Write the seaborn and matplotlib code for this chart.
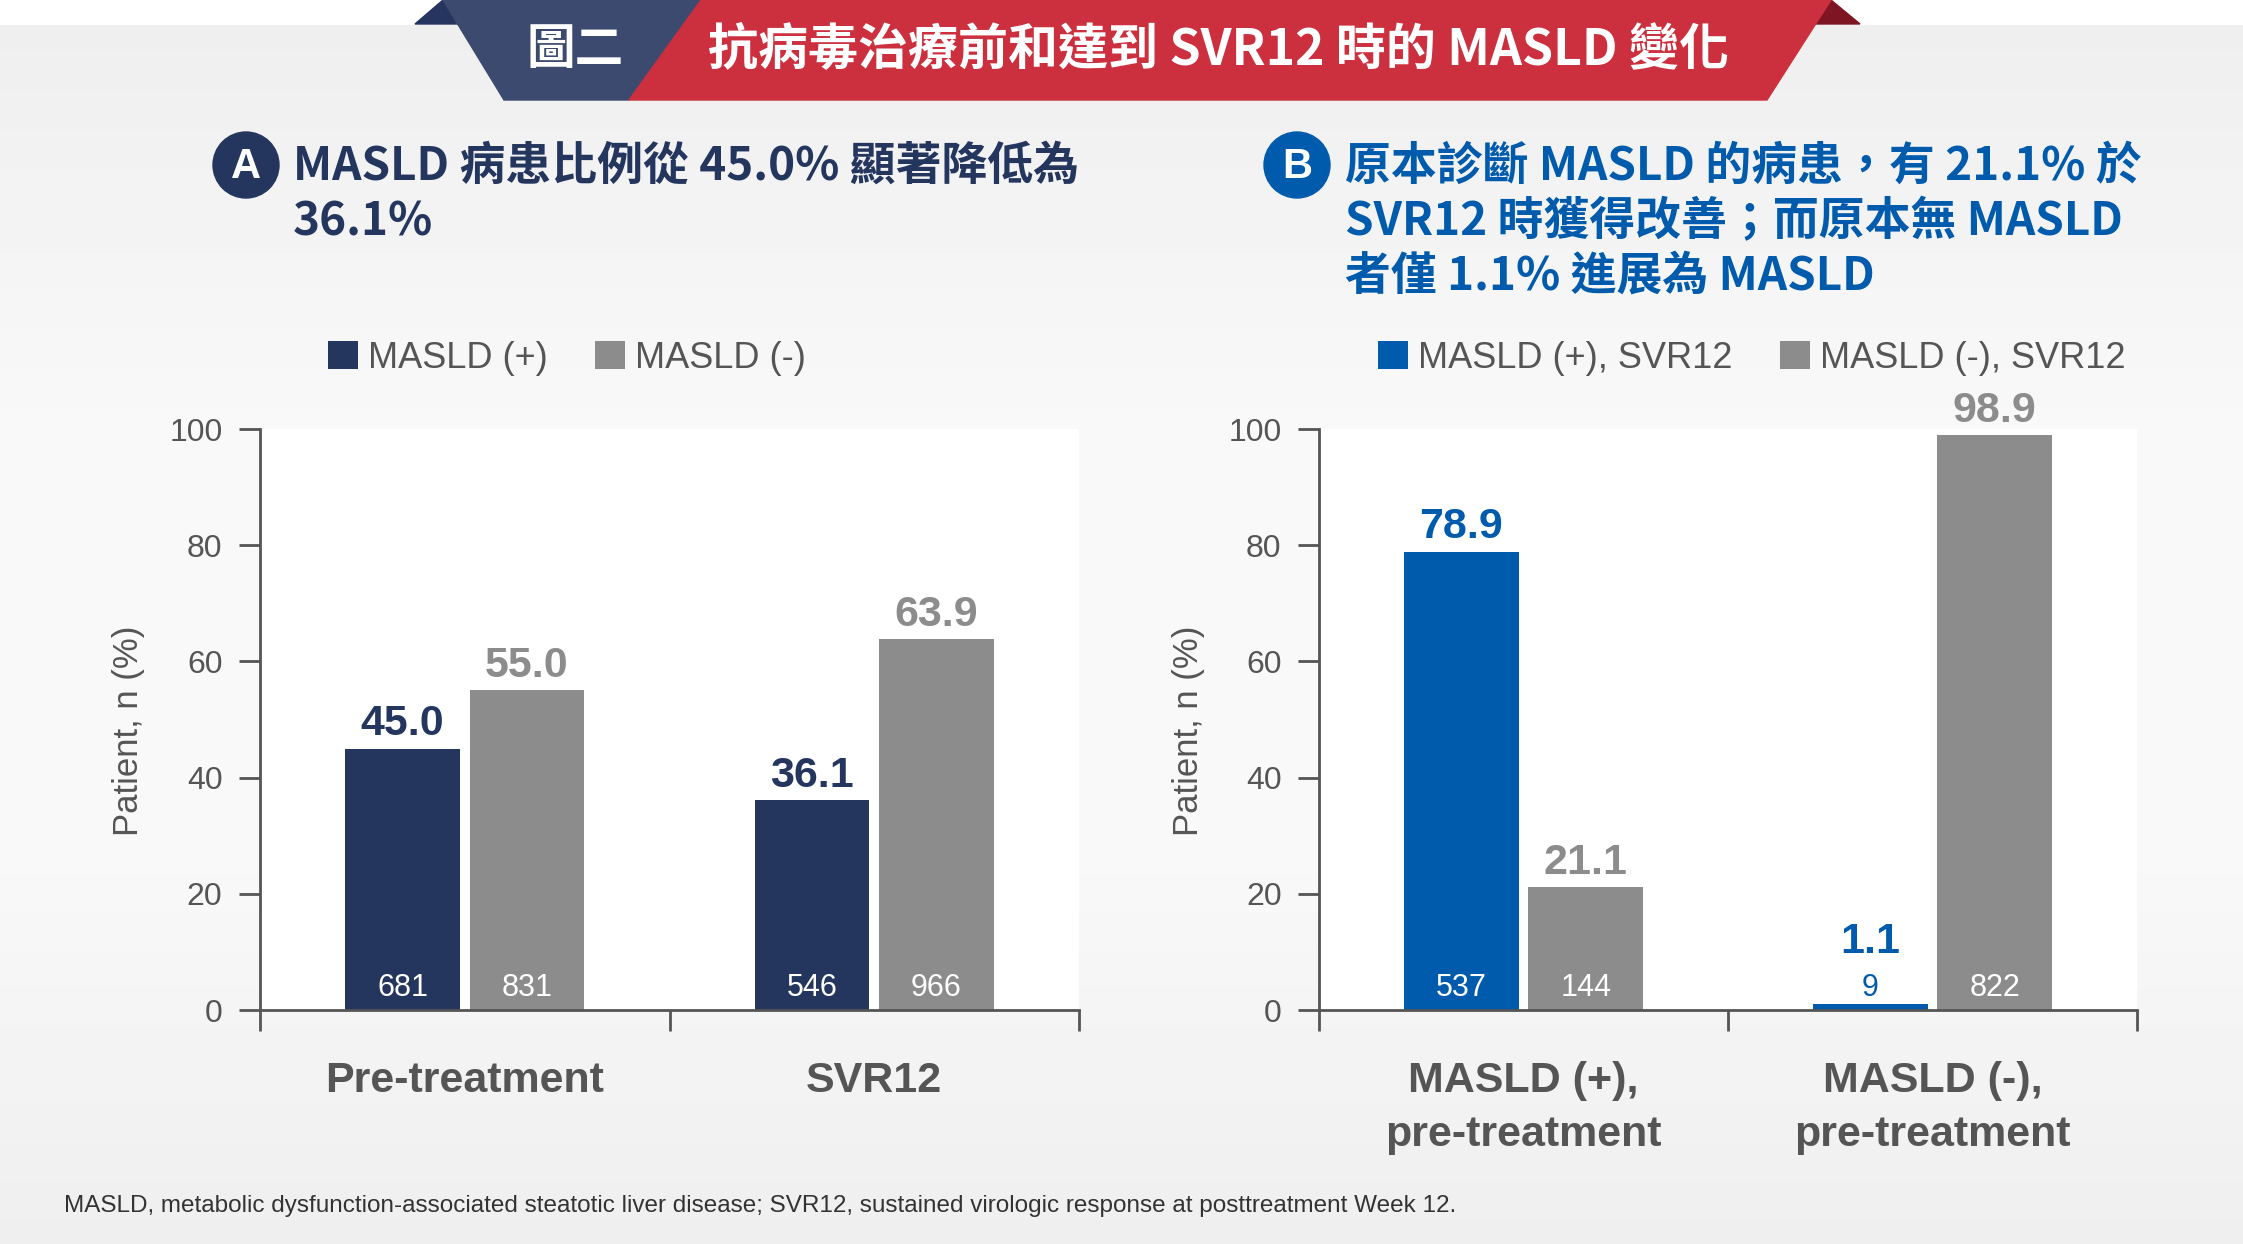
import matplotlib
matplotlib.use('Agg')
import matplotlib.pyplot as plt
import matplotlib.patches as mpatches
import numpy as np
import pandas as pd
import seaborn as sns

# ---- data ----
groups_a = ['Pre-treatment', 'SVR12']
pct_pos_a = [45.0, 36.1]
pct_neg_a = [55.0, 63.9]
n_pos_a = [681, 546]
n_neg_a = [831, 966]
legend_a = ['MASLD (+)', 'MASLD (-)']

groups_b = ['MASLD (+),\npre-treatment', 'MASLD (-),\npre-treatment']
pct_pos_b = [78.9, 1.1]
pct_neg_b = [21.1, 98.9]
n_pos_b = [537, 9]
n_neg_b = [144, 822]
legend_b = ['MASLD (+), SVR12', 'MASLD (-), SVR12']

yticks = [0, 20, 40, 60, 80, 100]

banner_tag = '圖二'
banner_title = '抗病毒治療前和達到 SVR12 時的 MASLD 變化'
title_a = ['MASLD 病患比例從 45.0% 顯著降低為', '36.1%']
title_b = ['原本診斷 MASLD 的病患，有 21.1% 於', 'SVR12 時獲得改善；而原本無 MASLD', '者僅 1.1% 進展為 MASLD']
footnote = ('MASLD, metabolic dysfunction-associated steatotic liver disease; '
            'SVR12, sustained virologic response at posttreatment Week 12.')

NAVY = '#25365e'
BLUE = '#005bac'
GREY = '#8c8c8c'
TXT = '#555555'

sns.set_theme(style='white')
plt.rcParams['font.family'] = ['Liberation Sans', 'Noto Sans CJK TC', 'DejaVu Sans']
CJK = ['Noto Sans CJK TC', 'DejaVu Sans']

W, H = 2243, 1244
fig = plt.figure(figsize=(W / 100, H / 100), dpi=100)

# background, banner, panel headings (pixel coordinates)
bg = fig.add_axes([0, 0, 1, 1], zorder=-1)
bg.set_xlim(0, W)
bg.set_ylim(H, 0)
bg.axis('off')
rows = np.arange(H)
shade = np.interp(rows, [0, 24, 25, 430, 850, H], [1, 1, 0.935, 0.975, 0.975, 0.935])
bg.imshow(shade[:, None], cmap='gray', vmin=0, vmax=1, extent=(0, W, H, 0), aspect='auto')

bg.add_patch(mpatches.Polygon([(415, 24), (443, 0), (458, 24)], color='#253560'))
bg.add_patch(mpatches.Polygon([(1815, 24), (1831, 0), (1860, 24)], color='#7d1522'))
bg.add_patch(mpatches.Polygon([(443, 0), (701, 0), (629, 100), (504, 100)], color='#3b4a6e'))
bg.add_patch(mpatches.Polygon([(701, 0), (1831, 0), (1767, 100), (629, 100)], color='#cc2f3d'))
bg.text(575, 50, banner_tag, ha='center', va='center', color='white', fontsize=35,
        fontweight='bold', family=CJK)
bg.text(1219, 50, banner_title, ha='center', va='center', color='white', fontsize=36,
        fontweight='bold', family=CJK)

for cx, letter, col, lines, tx in [(246, 'A', NAVY, title_a, 293), (1297, 'B', BLUE, title_b, 1345)]:
    bg.add_patch(mpatches.Circle((cx, 165), 33, color=col))
    bg.text(cx, 167, letter, ha='center', va='center', color='white', fontsize=30, fontweight='bold')
    for i, line in enumerate(lines):
        bg.text(tx, 167 + 55 * i, line, ha='left', va='center', color=col, fontsize=33,
                fontweight='bold', family=CJK)

bg.text(64, 1206, footnote, ha='left', va='center', color='#333333', fontsize=17.5)


def panel(rect, groups, pos, neg, n_pos, n_neg, labels, colors, legend_xy):
    ax = fig.add_axes(rect)
    df = pd.DataFrame({'group': groups * 2,
                       'status': [labels[0]] * len(groups) + [labels[1]] * len(groups),
                       'pct': pos + neg})
    sns.barplot(data=df, x='group', y='pct', hue='status', palette=colors, saturation=1,
                width=0.608, gap=0.08, errorbar=None, linewidth=0, ax=ax)
    ax.set_facecolor('white')
    ax.set_xlim(-0.5, 1.5)
    ax.set_ylim(0, 100)
    ax.set_yticks(yticks)
    ax.set_xticks([0, 1])
    ax.set_xticklabels(groups)
    ax.set_xticks([-0.5, 0.5, 1.5], minor=True)
    ax.set_xlabel('')
    ax.set_ylabel('Patient, n (%)', fontsize=25, color=TXT)
    ax.yaxis.label.set_va('center')
    ax.yaxis.set_label_coords(-0.16, 0.48)

    ax.tick_params(axis='y', left=True, length=15, width=2, color=TXT, labelsize=23,
                   labelcolor=TXT, pad=12)
    ax.tick_params(axis='x', which='major', bottom=True, length=0, pad=37, labelsize=31,
                   labelcolor=TXT)
    ax.tick_params(axis='x', which='minor', bottom=True, length=15, width=2, color=TXT)
    for lbl in ax.get_xticklabels():
        lbl.set_fontweight('bold')
        lbl.set_linespacing(1.45)

    for side in ['top', 'right']:
        ax.spines[side].set_visible(False)
    for side in ['left', 'bottom']:
        ax.spines[side].set_color(TXT)
        ax.spines[side].set_linewidth(2)

    for cont, ns, col in zip(ax.containers, [n_pos, n_neg], colors):
        for bar, n in zip(cont, ns):
            xc = bar.get_x() + bar.get_width() / 2
            h = bar.get_height()
            # tiny bars: keep the value clear of the count label
            ax.annotate(f'{h:.1f}', (xc, max(h, 7.5)), xytext=(0, 3), textcoords='offset points',
                        ha='center', va='bottom', fontsize=31, fontweight='bold', color=col,
                        annotation_clip=False)
            ax.text(xc, 3.8, str(n), ha='center', va='center',
                    fontsize=22, color='white' if h > 8 else col)

    sns.move_legend(ax, 'center left', bbox_to_anchor=legend_xy, bbox_transform=fig.transFigure,
                    ncol=2, title=None, frameon=False, fontsize=26, handlelength=0.83,
                    handleheight=0.83, handletextpad=0.28, columnspacing=1.3, borderpad=0,
                    borderaxespad=0, labelcolor=TXT)
    return ax


panel([260 / W, 1 - 1010 / H, 819 / W, 581 / H], groups_a, pct_pos_a, pct_neg_a,
      n_pos_a, n_neg_a, legend_a, [NAVY, GREY], (328 / W, 1 - 358 / H))
panel([1319 / W, 1 - 1010 / H, 818 / W, 581 / H], groups_b, pct_pos_b, pct_neg_b,
      n_pos_b, n_neg_b, legend_b, [BLUE, GREY], (1378 / W, 1 - 358 / H))

fig.savefig('out.png', dpi=100)
